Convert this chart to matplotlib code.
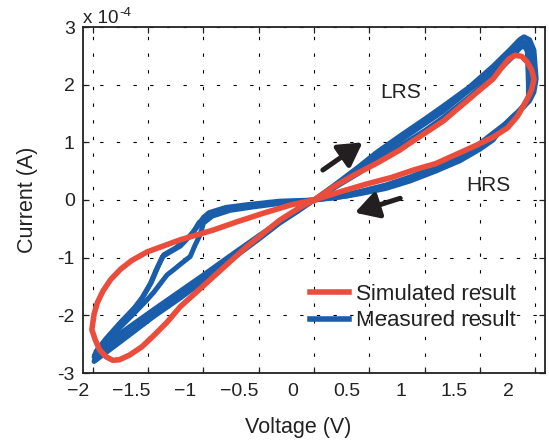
import matplotlib
matplotlib.use("Agg")
import matplotlib.pyplot as plt
from matplotlib.transforms import ScaledTranslation
from matplotlib.lines import Line2D

plt.rcParams['font.family'] = ['Liberation Sans', 'DejaVu Sans']

# ---------------- data (current in units of 1e-4 A) ----------------
sim_v = [0.0, 0.17, 0.35, 0.57, 0.78, 0.87, 1.17, 1.47, 1.62, 1.70, 1.76, 1.82, 1.88, 1.93,
         1.97, 1.99, 1.97, 1.93, 1.84, 1.75, 1.62, 1.47, 1.32, 1.10, 0.90, 0.70, 0.48, 0.25,
         0.10, 0.0, -0.20, -0.46, -0.70, -0.91, -1.21, -1.51, -1.65, -1.75, -1.84, -1.91,
         -1.96, -1.99, -2.01, -1.98, -1.94, -1.88, -1.82, -1.76, -1.67, -1.56, -1.46, -1.33,
         -1.21, -0.91, -0.61, -0.31, -0.12, 0.0]
sim_i = [0.0, 0.22, 0.42, 0.64, 0.87, 0.99, 1.37, 1.86, 2.10, 2.30, 2.44, 2.51, 2.49, 2.39,
         2.25, 2.10, 1.92, 1.75, 1.45, 1.25, 1.09, 0.95, 0.82, 0.63, 0.52, 0.39, 0.28, 0.15,
         0.06, 0.0, -0.08, -0.23, -0.38, -0.52, -0.69, -0.90, -1.05, -1.20, -1.38, -1.58,
         -1.78, -1.98, -2.25, -2.42, -2.60, -2.72, -2.78, -2.77, -2.69, -2.55, -2.37, -2.12,
         -1.85, -1.33, -0.81, -0.35, -0.12, 0.0]

meas_a_v = [0.0, 0.2, 0.4, 0.57, 0.8, 1.0, 1.17, 1.4, 1.62, 1.78, 1.86, 1.9, 1.95, 1.99,
            2.0, 2.01, 1.99, 1.95, 1.89, 1.8, 1.72, 1.62, 1.5, 1.32, 1.1, 0.87, 0.65, 0.42,
            0.2, 0.0, -0.31, -0.55, -0.76, -0.9, -0.96, -1.0, -1.04, -1.09, -1.15, -1.21,
            -1.3, -1.37, -1.4, -1.43, -1.48, -1.55, -1.62, -1.75, -1.88, -1.97, -1.99, -1.95,
            -1.85, -1.67, -1.45, -1.21, -1.0, -0.76, -0.5, -0.31, -0.15, 0.0]
meas_a_i = [0.0, 0.28, 0.57, 0.83, 1.14, 1.40, 1.63, 1.95, 2.32, 2.62, 2.78, 2.83, 2.78, 2.60,
            2.35, 2.10, 1.87, 1.72, 1.60, 1.45, 1.30, 1.04, 0.88, 0.68, 0.50, 0.33, 0.20, 0.11,
            0.04, 0.0, -0.04, -0.09, -0.15, -0.22, -0.27, -0.33, -0.39, -0.55, -0.68, -0.80,
            -0.90, -0.98, -1.10, -1.22, -1.45, -1.68, -1.86, -2.12, -2.40, -2.62, -2.72, -2.62,
            -2.45, -2.20, -1.90, -1.58, -1.30, -0.97, -0.62, -0.37, -0.17, 0.0]

meas_b_v = [0.0, 0.2, 0.4, 0.57, 0.8, 1.0, 1.17, 1.4, 1.62, 1.78, 1.86, 1.9, 1.93, 1.935,
            1.94, 1.94, 1.9, 1.84, 1.75, 1.62, 1.5, 1.32, 1.1, 0.87, 0.65, 0.42, 0.2, 0.0,
            -0.31, -0.55, -0.76, -0.92, -1.0, -1.03, -1.08, -1.12, -1.2, -1.27, -1.33, -1.39,
            -1.45, -1.51, -1.62, -1.75, -1.88, -1.98, -1.96, -1.9, -1.67, -1.45, -1.21, -1.0,
            -0.76, -0.5, -0.31, -0.15, 0.0]
meas_b_i = [0.0, 0.23, 0.46, 0.68, 0.96, 1.20, 1.43, 1.78, 2.15, 2.45, 2.63, 2.68, 2.58, 2.30,
            2.00, 1.79, 1.65, 1.50, 1.35, 1.16, 0.98, 0.78, 0.58, 0.40, 0.26, 0.15, 0.06, 0.0,
            -0.06, -0.12, -0.18, -0.28, -0.40, -0.60, -0.80, -0.98, -1.10, -1.21, -1.30, -1.45,
            -1.60, -1.73, -1.95, -2.20, -2.48, -2.78, -2.72, -2.60, -2.30, -1.98, -1.66, -1.36,
            -1.02, -0.66, -0.38, -0.18, 0.0]

meas_c_v = [0.0, 0.2, 0.57, 1.17, 1.62, 1.8, 1.87, 1.93, 1.97, 1.98, 1.97, 1.92, 1.84, 1.72,
            1.62, 1.45, 1.32, 1.1, 0.87, 0.6, 0.3, 0.0, -0.31, -0.6, -0.8, -0.95, -1.0, -1.05,
            -1.12, -1.25, -1.36, -1.41, -1.47, -1.56, -1.7, -1.85, -1.96, -1.99, -1.92, -1.67,
            -1.45, -1.21, -1.0, -0.76, -0.5, -0.31, -0.15, 0.0]
meas_c_i = [0.0, 0.25, 0.76, 1.54, 2.24, 2.60, 2.75, 2.72, 2.50, 2.20, 1.90, 1.68, 1.52, 1.30,
            1.10, 0.92, 0.74, 0.55, 0.37, 0.20, 0.07, 0.0, -0.02, -0.08, -0.13, -0.22, -0.30, -0.45,
            -0.62, -0.83, -0.95, -1.15, -1.42, -1.72, -2.05, -2.38, -2.62, -2.80, -2.70, -2.34,
            -2.02, -1.70, -1.40, -1.05, -0.68, -0.40, -0.20, 0.0]

x_ticks = [-2, -1.5, -1, -0.5, 0, 0.5, 1, 1.5, 2]
x_labels = ['\u22122', '\u22121.5', '\u22121', '\u22120.5', '0', '0.5', '1', '1.5', '2']
y_ticks = [-3, -2, -1, 0, 1, 2, 3]
y_labels = ['-3', '-2', '-1', '0', '1', '2', '3']

series_names = ['Simulated result', 'Measured result']
red = '#EB4D3D'
blue = '#1A5EAB'
ink = '#222222'

# ---------------- figure ----------------
fig = plt.figure(figsize=(5.49, 4.43), dpi=100)
ax = fig.add_axes([83 / 549, 1 - 373 / 443, 462 / 549, 346 / 443])

for v, i in [(meas_a_v, meas_a_i), (meas_b_v, meas_b_i), (meas_c_v, meas_c_i)]:
    ax.plot(v, i, color=blue, lw=3.6, solid_joinstyle='round', solid_capstyle='round', zorder=3)
ax.plot(sim_v, sim_i, color=red, lw=4.0, solid_joinstyle='round', solid_capstyle='round', zorder=4)

ax.set_xlim(-2.09, 2.09)
ax.set_ylim(-3, 3)

ax.grid(True, color='black', linestyle=(0, (3, 12)), linewidth=0.8)
ax.set_axisbelow(True)
for s in ax.spines.values():
    s.set_linewidth(1.3)
    s.set_color(ink)

ax.tick_params(direction='in', length=4, width=0.9, top=True, right=True,
               labelsize=14, colors=ink, pad=6)
ax.tick_params(axis='x', pad=7)
ax.set_xticks(x_ticks, x_labels)
ax.set_yticks(y_ticks, y_labels)

# x tick labels sit slightly left of their ticks in the reference
for lab, v in zip(ax.get_xticklabels(), x_ticks):
    dx = (-20.9 - 2.9 * v) / 100.0
    lab.set_transform(lab.get_transform() + ScaledTranslation(dx, 0, fig.dpi_scale_trans))

ax.set_xlabel('Voltage (V)', fontsize=15.5, color=ink, va='center')
ax.xaxis.set_label_coords((298 - 83) / 462, (373 - 428) / 346)
ax.set_ylabel('Current (A)', fontsize=15.5, color=ink, va='center')
ax.yaxis.set_label_coords((28 - 83) / 462, 0.5)

# exponent label
t1 = ax.text(0.0, 1.0, 'x 10', transform=ax.transAxes, ha='left', va='bottom',
             fontsize=13.5, color=ink)
ax.annotate('-4', xy=(1, 1), xycoords=t1, xytext=(0.5, 2), textcoords='offset points',
            ha='left', va='top', fontsize=9.5, color=ink)

# annotations
ax.text(0.78, 1.87, 'LRS', fontsize=15, ha='center', va='center', color=ink)
ax.text(1.58, 0.26, 'HRS', fontsize=15, ha='center', va='center', color=ink)
arrow_style = '-|>,head_length=1.4,head_width=0.8'
ax.annotate('', xy=(0.44, 1.0), xytext=(0.08, 0.52),
            arrowprops=dict(arrowstyle=arrow_style, lw=3.6, color='#231f20',
                            shrinkA=0, shrinkB=0), zorder=6)
ax.annotate('', xy=(0.37, -0.22), xytext=(0.78, 0.03),
            arrowprops=dict(arrowstyle=arrow_style, lw=3.6, color='#231f20',
                            shrinkA=0, shrinkB=0), zorder=6)

# legend
handles = [Line2D([], [], color=red, lw=4.0), Line2D([], [], color=blue, lw=4.0)]
ax.legend(handles, series_names, loc='center left',
          bbox_to_anchor=((310 - 83) / 462, (373 - 307.5) / 346),
          frameon=False, fontsize=16, handlelength=1.75, handletextpad=0.3,
          labelspacing=0.25, borderpad=0, borderaxespad=0, labelcolor=ink)

fig.savefig('out.png', dpi=100)
